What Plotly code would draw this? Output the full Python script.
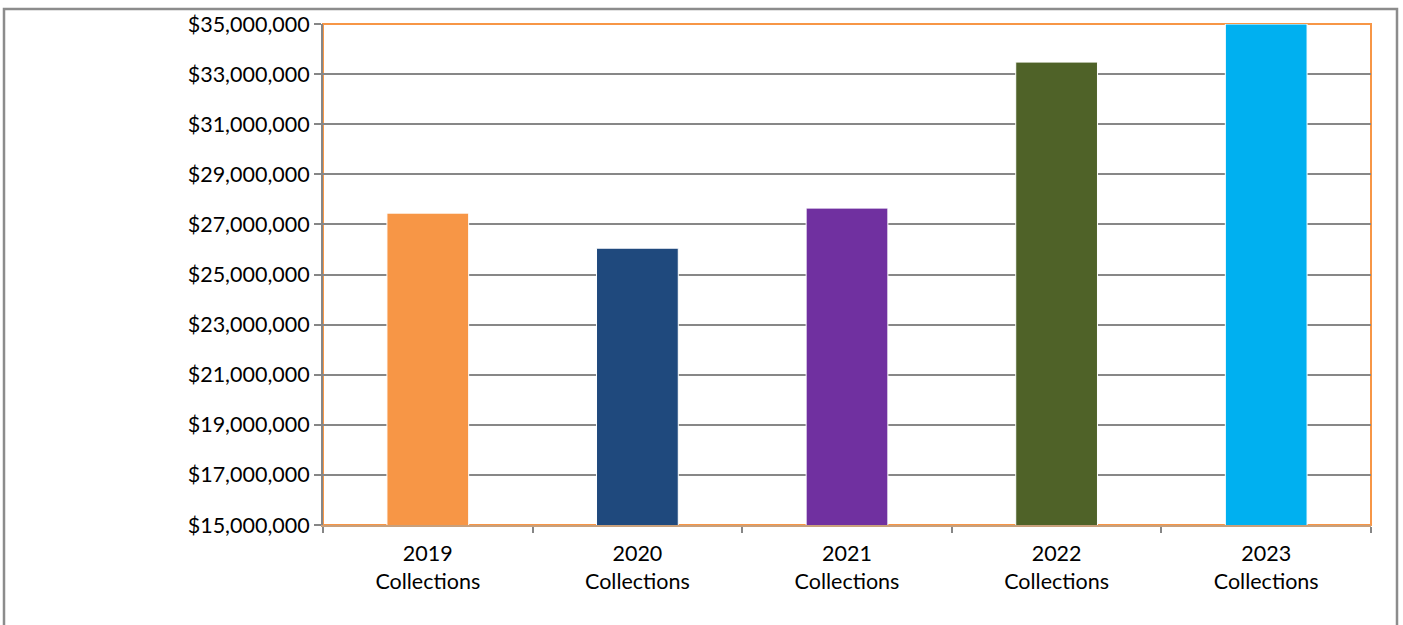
import plotly.graph_objects as go

categories = ["2019<br>Collections", "2020<br>Collections", "2021<br>Collections",
              "2022<br>Collections", "2023<br>Collections"]
values = [27450000, 26050000, 27650000, 33480000, 35000000]
colors = ["#F79646", "#1F497D", "#7030A0", "#4F6228", "#00B0F0"]
tick_vals = [15000000, 17000000, 19000000, 21000000, 23000000, 25000000,
             27000000, 29000000, 31000000, 33000000, 35000000]

W, H = 1403, 625
L, R, T, B = 323, 32, 24, 100
pw, ph = W - L - R, H - T - B

fig = go.Figure(go.Bar(
    x=categories, y=values,
    marker=dict(color=colors, line=dict(color="white", width=1)),
    cliponaxis=True,
))

fig.update_layout(
    width=W, height=H,
    margin=dict(l=L, r=R, t=T, b=B),
    paper_bgcolor="white", plot_bgcolor="white",
    bargap=0.61,
    showlegend=False,
    font=dict(family="Lato, Open Sans, sans-serif", size=21.5, color="black"),
)

fig.update_yaxes(
    range=[15000000, 35000000],
    tickvals=tick_vals, tickformat="$,.0f",
    showgrid=True, gridcolor="#878787", gridwidth=1.5,
    showline=True, linecolor="#868686", linewidth=2,
    ticks="outside", ticklen=7, tickcolor="#868686", tickwidth=2,
    zeroline=False,
)
fig.update_xaxes(
    showline=True, linecolor="#C8A07C", linewidth=2,
    ticks="outside", tickson="boundaries", ticklen=6, tickcolor="#868686", tickwidth=2,
    ticklabelstandoff=8,
    showgrid=False,
)

# plot-area border (orange) between gridlines and bars
fig.add_shape(type="rect", xref="paper", yref="paper", x0=0, x1=1, y0=0, y1=1,
              line=dict(color="#F79646", width=2), layer="between")

# outer chart border (grey)
fig.add_shape(type="rect", xref="paper", yref="paper",
              x0=(4 - L) / pw, x1=(1397 - L) / pw,
              y0=-(H + 10 - T - ph) / ph, y1=(T + ph - 9) / ph,
              line=dict(color="#8C8C8C", width=2.5), layer="above")

fig.write_html("out.html")
